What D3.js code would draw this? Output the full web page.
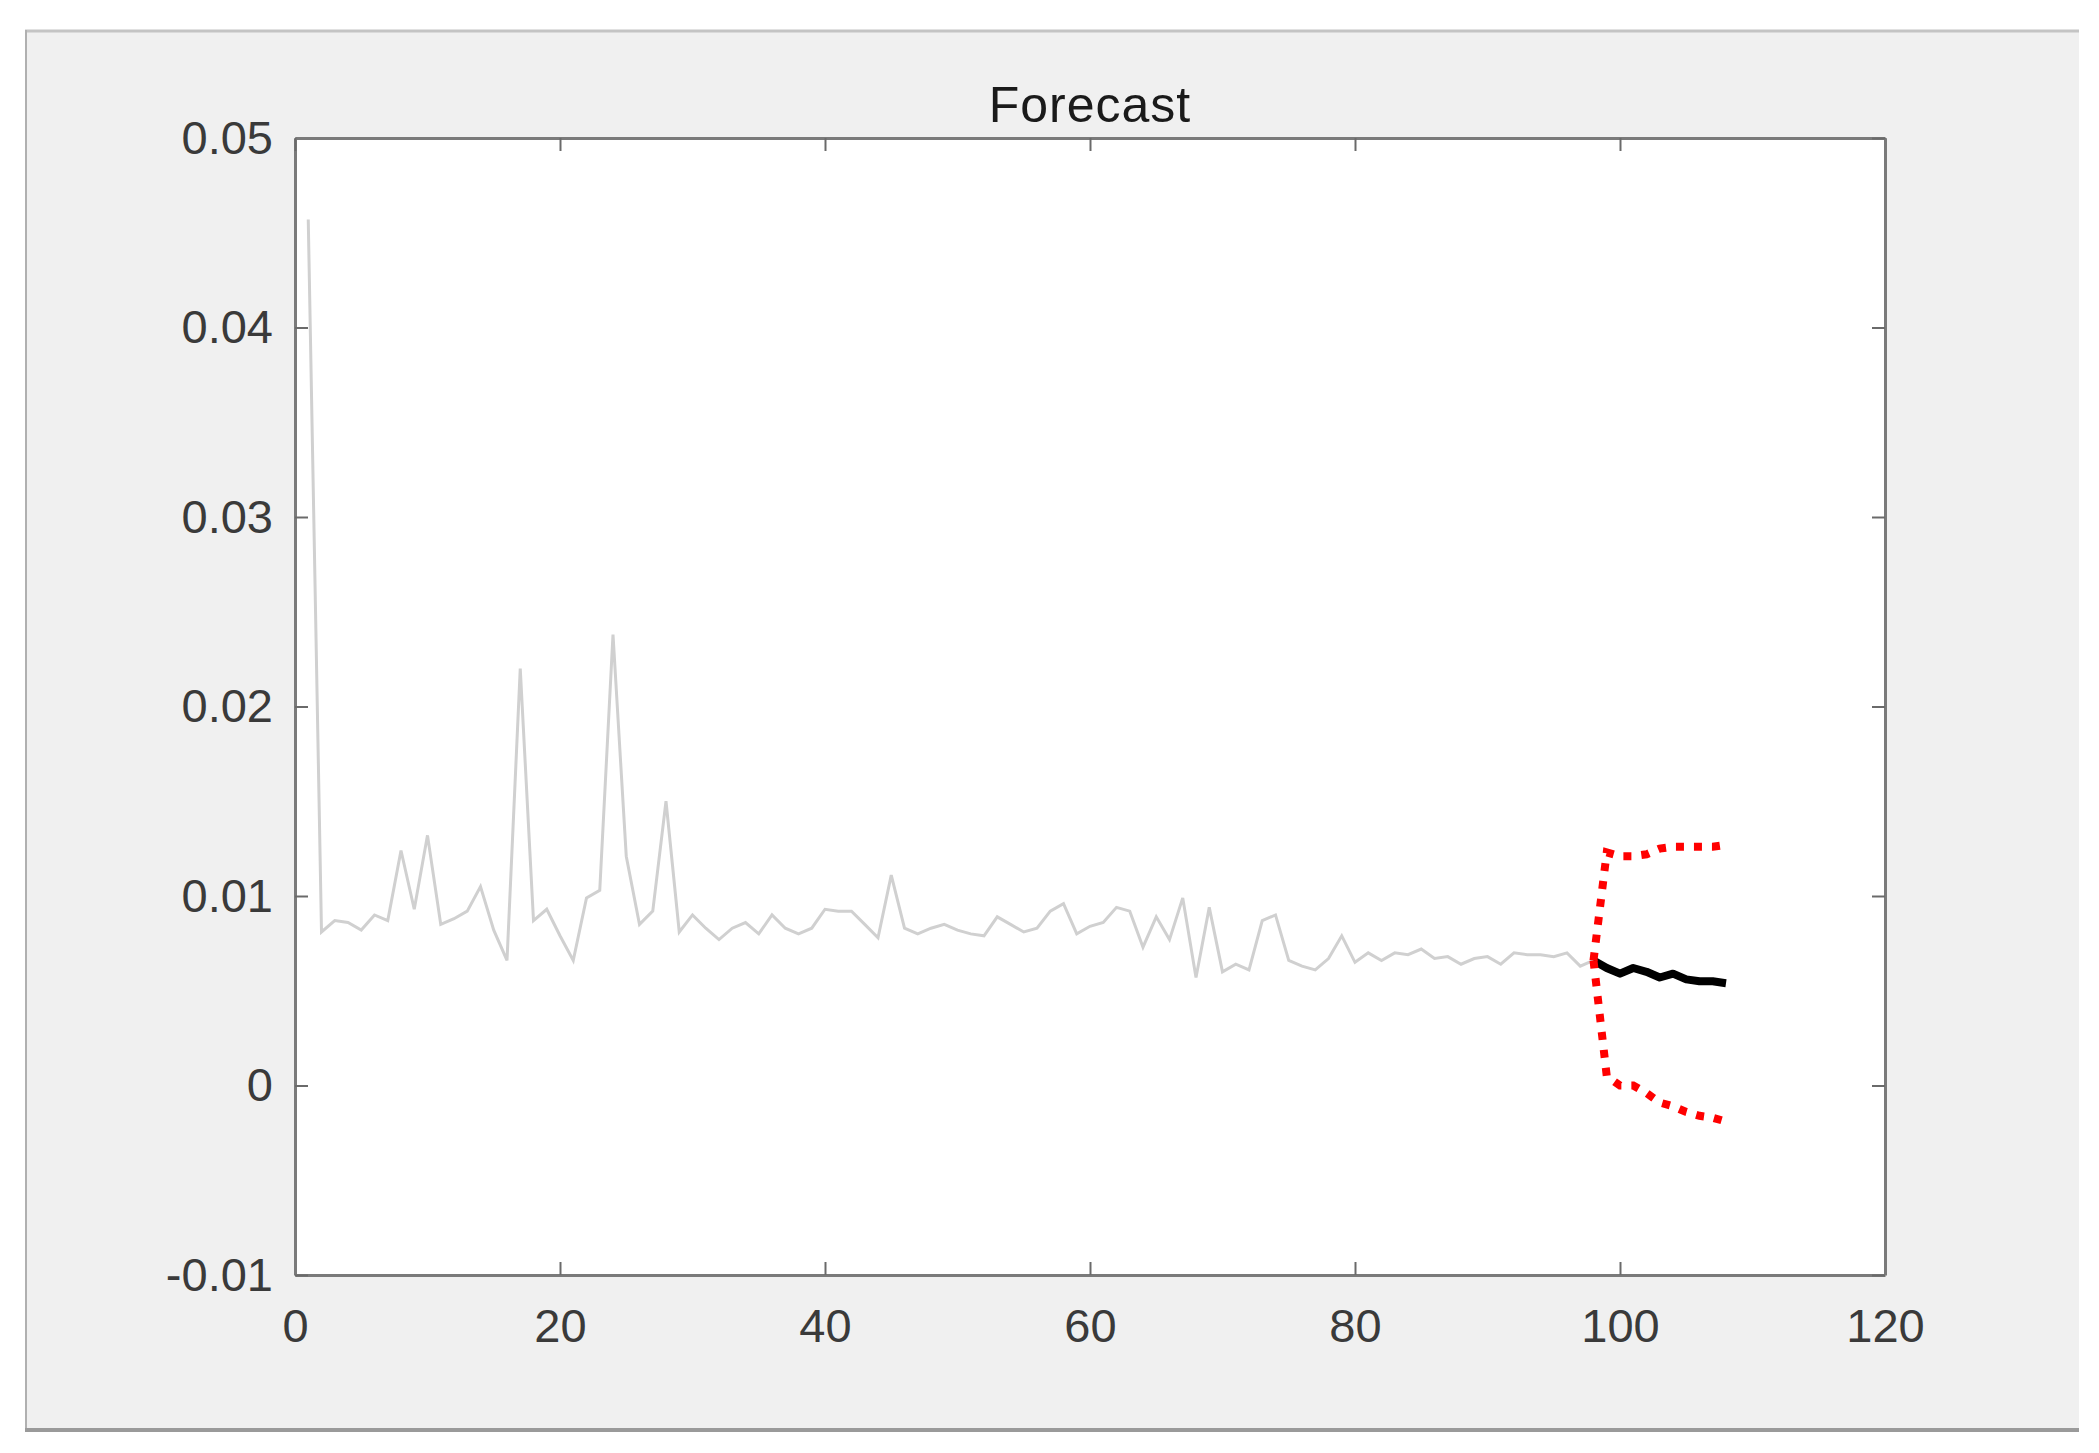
<!DOCTYPE html>
<html>
<head>
<meta charset="utf-8">
<script src="https://cdn.jsdelivr.net/npm/d3@7"></script>
<style>
  body { margin: 0; background: #fff; }
  text { font-family: "Liberation Sans", Arial, sans-serif; }
</style>
</head>
<body>
<div id="chart"></div>
<script>
// observed series, t = 1..98
let observed = [
  0.0457, 0.0081, 0.0087, 0.0086, 0.0082, 0.0090, 0.0087, 0.0124, 0.0093, 0.0132,
  0.0085, 0.0088, 0.0092, 0.0105, 0.0082, 0.0066, 0.0220, 0.0087, 0.0093, 0.0079,
  0.0066, 0.0099, 0.0103, 0.0238, 0.0121, 0.0085, 0.0092, 0.0150, 0.0081, 0.0090,
  0.0083, 0.0077, 0.0083, 0.0086, 0.0080, 0.0090, 0.0083, 0.0080, 0.0083, 0.0093,
  0.0092, 0.0092, 0.0085, 0.0078, 0.0111, 0.0083, 0.0080, 0.0083, 0.0085, 0.0082,
  0.0080, 0.0079, 0.0089, 0.0085, 0.0081, 0.0083, 0.0092, 0.0096, 0.0080, 0.0084,
  0.0086, 0.0094, 0.0092, 0.0073, 0.0089, 0.0077, 0.0099, 0.0057, 0.0094, 0.0060,
  0.0064, 0.0061, 0.0087, 0.0090, 0.0066, 0.0063, 0.0061, 0.0067, 0.0079, 0.0065,
  0.0070, 0.0066, 0.0070, 0.0069, 0.0072, 0.0067, 0.0068, 0.0064, 0.0067, 0.0068,
  0.0064, 0.0070, 0.0069, 0.0069, 0.0068, 0.0070, 0.0063, 0.0066
]

// forecast, t = 98..108
let forecastStart = 98
let forecast = [0.0066, 0.0062, 0.0059, 0.0062, 0.0060, 0.0057, 0.0059, 0.0056, 0.0055, 0.0055, 0.0054]
let upperBound = [0.0066, 0.0123, 0.0121, 0.0121, 0.0122, 0.0125, 0.0126, 0.0126, 0.0126, 0.0126, 0.0127]
let lowerBound = [0.0066, 0.0005, 0.0000, 0.0000, -0.0004, -0.0009, -0.0011, -0.0014, -0.0016, -0.0017, -0.0019]

let xTicks = [0, 20, 40, 60, 80, 100, 120]
let yTicks = [-0.01, 0, 0.01, 0.02, 0.03, 0.04, 0.05]
let title = "Forecast"

let width = 2099
let height = 1453
let margin = { top: 138, right: 214, bottom: 178, left: 295 }

let svg = d3.select('#chart')
    .append('svg')
    .attr('width', width)
    .attr('height', height)

// figure window background
svg.append('rect')
    .attr('x', 25).attr('y', 30)
    .attr('width', 2054).attr('height', 1401)
    .attr('fill', '#f0f0f0')
svg.append('line')
    .attr('x1', 25).attr('x2', 2079).attr('y1', 31).attr('y2', 31)
    .attr('stroke', '#c4c4c4').attr('stroke-width', 3)
svg.append('line')
    .attr('x1', 26).attr('x2', 26).attr('y1', 30).attr('y2', 1431)
    .attr('stroke', '#b0b0b0').attr('stroke-width', 2)
svg.append('line')
    .attr('x1', 25).attr('x2', 2079).attr('y1', 1430).attr('y2', 1430)
    .attr('stroke', '#9a9a9a').attr('stroke-width', 4)

let x = d3.scaleLinear()
    .domain([0, 120])
    .range([margin.left, width - margin.right])

let y = d3.scaleLinear()
    .domain([-0.01, 0.05])
    .range([height - margin.bottom, margin.top])

// axes area
svg.append('rect')
    .attr('x', x(0)).attr('y', y(0.05))
    .attr('width', x(120) - x(0)).attr('height', y(-0.01) - y(0.05))
    .attr('fill', '#fff')

let fmt = d => d === 0 ? "0" : d.toFixed(2)

let styleAxis = (g) => {
    g.select('.domain').attr('stroke', '#7a7a7a').attr('stroke-width', 3)
    g.selectAll('.tick line').attr('stroke', '#6a6a6a').attr('stroke-width', 2)
    g.selectAll('.tick text')
        .attr('fill', '#3a3a3a')
        .style('font-size', '47px')
}

svg.append('g')
    .attr('transform', `translate(0,${y(-0.01)})`)
    .call(d3.axisBottom(x).tickValues(xTicks).tickSizeInner(-13).tickSizeOuter(0).tickPadding(34))
    .call(styleAxis)

svg.append('g')
    .attr('transform', `translate(${x(0)},0)`)
    .call(d3.axisLeft(y).tickValues(yTicks).tickFormat(fmt).tickSizeInner(-13).tickSizeOuter(0).tickPadding(22))
    .call(styleAxis)

svg.append('g')
    .attr('transform', `translate(0,${y(0.05)})`)
    .call(d3.axisTop(x).tickValues(xTicks).tickFormat('').tickSizeInner(-13).tickSizeOuter(0))
    .call(styleAxis)

svg.append('g')
    .attr('transform', `translate(${x(120)},0)`)
    .call(d3.axisRight(y).tickValues(yTicks).tickFormat('').tickSizeInner(-13).tickSizeOuter(0))
    .call(styleAxis)

let line = d3.line()
    .x(d => x(d[0]))
    .y(d => y(d[1]))

let obsPts = observed.map((v, i) => [i + 1, v])
let fcPts = forecast.map((v, i) => [forecastStart + i, v])
let upPts = upperBound.map((v, i) => [forecastStart + i, v])
let loPts = lowerBound.map((v, i) => [forecastStart + i, v])

svg.append('path')
    .datum(obsPts)
    .attr('d', line)
    .attr('fill', 'none')
    .attr('stroke', '#d0d0d0')
    .attr('stroke-width', 3)

svg.append('path')
    .datum(fcPts)
    .attr('d', line)
    .attr('fill', 'none')
    .attr('stroke', '#000')
    .attr('stroke-width', 8)
    .attr('stroke-linejoin', 'round')

;[upPts, loPts].forEach(pts => {
    svg.append('path')
        .datum(pts)
        .attr('d', line)
        .attr('fill', 'none')
        .attr('stroke', '#ff0000')
        .attr('stroke-width', 8)
        .attr('stroke-dasharray', '8 10')
})

svg.append('text')
    .attr('x', (x(0) + x(120)) / 2)
    .attr('y', 122)
    .attr('text-anchor', 'middle')
    .attr('fill', '#1a1a1a')
    .style('font-size', '50px')
    .style('letter-spacing', '1px')
    .text(title)
</script>
</body>
</html>
